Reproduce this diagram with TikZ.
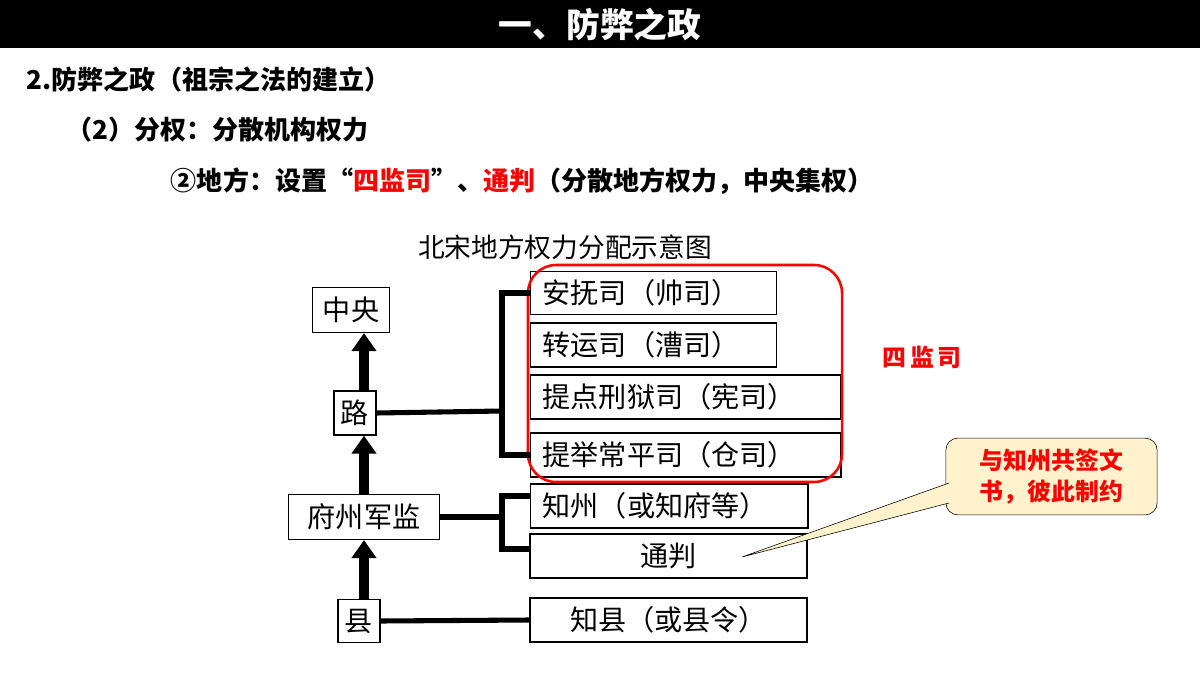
\documentclass[tikz,border=0pt]{standalone}
\usepackage{fontspec}
\setmainfont{Noto Sans CJK SC}
\usetikzlibrary{arrows.meta}
\definecolor{notefill}{RGB}{255,242,204}

\begin{document}
\begin{tikzpicture}[x=0.025cm,y=-0.025cm,
  box/.style={draw,line width=1pt,inner sep=0pt,font=\fontsize{20}{22}\selectfont},
  lbox/.style={box,anchor=west,align=left,text width=#1},
  bar/.style={line width=3.6pt},
  up/.style={line width=0.24cm,-{Triangle[width=0.6cm,length=0.45cm]}}]
  \useasboundingbox (0,0) rectangle (1200,675);

  \fill[black] (0,0) rectangle (1200,48);
  \node[text=white,font=\fontsize{24}{26}\bfseries] (title) at (600,24) {一、防弊之政};
  \node[anchor=west,font=\fontsize{18.5}{20}\bfseries] (l1) at (22,80) {2.防弊之政（祖宗之法的建立）};
  \node[anchor=west,font=\fontsize{18.5}{20}\bfseries] (l2) at (62,130) {（2）分权：分散机构权力};
  \node[anchor=west,font=\fontsize{18.5}{20}\bfseries] (l3) at (166,181)
    {②地方：设置“\textcolor{red}{四监司}”、\textcolor{red}{通判}（分散地方权力，中央集权）};
  \node[font=\fontsize{19}{20}\selectfont] (cap) at (565,247) {北宋地方权力分配示意图};

  \node[box,minimum width=1.93cm,minimum height=1.12cm] (zy) at (351,310) {中央};
  \node[box,minimum width=1.05cm,minimum height=1.1cm] (lu) at (355,413) {路};
  \node[box,minimum width=3.78cm,minimum height=1.12cm] (fz) at (364,517) {府州军监};
  \node[box,minimum width=1.05cm,minimum height=1.08cm] (xi) at (359,621) {县};

  \node[lbox=6.15cm,minimum height=1.08cm] (af) at (530,293) {\hspace{0.3cm}安抚司（帅司）};
  \node[lbox=6.15cm,minimum height=1.1cm] (zh) at (530,345) {\hspace{0.3cm}转运司（漕司）};
  \node[lbox=7.75cm,minimum height=1.1cm] (td) at (530,397) {\hspace{0.3cm}提点刑狱司（宪司）};
  \node[lbox=7.75cm,minimum height=1.1cm] (tj) at (530,455) {\hspace{0.3cm}提举常平司（仓司）};
  \node[lbox=6.93cm,minimum height=1.1cm] (zz) at (530,506) {\hspace{0.3cm}知州（或知府等）};
  \node[box,minimum width=6.93cm,minimum height=1.1cm] (tp) at (668.5,556) {通判};
  \node[box,minimum width=6.93cm,minimum height=1.1cm] (zx) at (668.5,620) {知县（或县令）};

  \draw[red,line width=1.8pt,rounded corners=0.7cm] (528,265) rectangle (842,482);
  \node[text=red,font=\fontsize{17}{18}\bfseries] (sj) at (922,357) {四\,监\,司};

  \draw[up] (xi.north -| fz) -- (fz.south);
  \draw[up] (fz.north) -- (fz.north |- lu.south);
  \draw[up] (fz.north |- lu.north) -- (fz.north |- zy.south);

  \coordinate (b1) at (502,411);
  \coordinate (b2) at (502,517);
  \draw[bar] (lu.east) -- (b1);
  \draw[bar] (af.west) -| (b1) |- (tj.west);
  \draw[bar] (fz.east) -- (b2);
  \draw[bar] (530,496) -| (b2) |- (530,549);
  \draw[bar] (xi.east) -- (zx.west);

  \node[draw,fill=notefill,rounded corners=0.3cm,minimum width=5.28cm,minimum height=1.92cm,
    font=\fontsize{17}{22}\bfseries,text=red,align=center] (note) at (1051.5,476.5)
    {与知州共签文\\书，彼此制约};
  \coordinate (tip) at (742,557);
  \draw[fill=notefill] (949,483) -- (tip) -- (949,503);
\end{tikzpicture}
\end{document}
